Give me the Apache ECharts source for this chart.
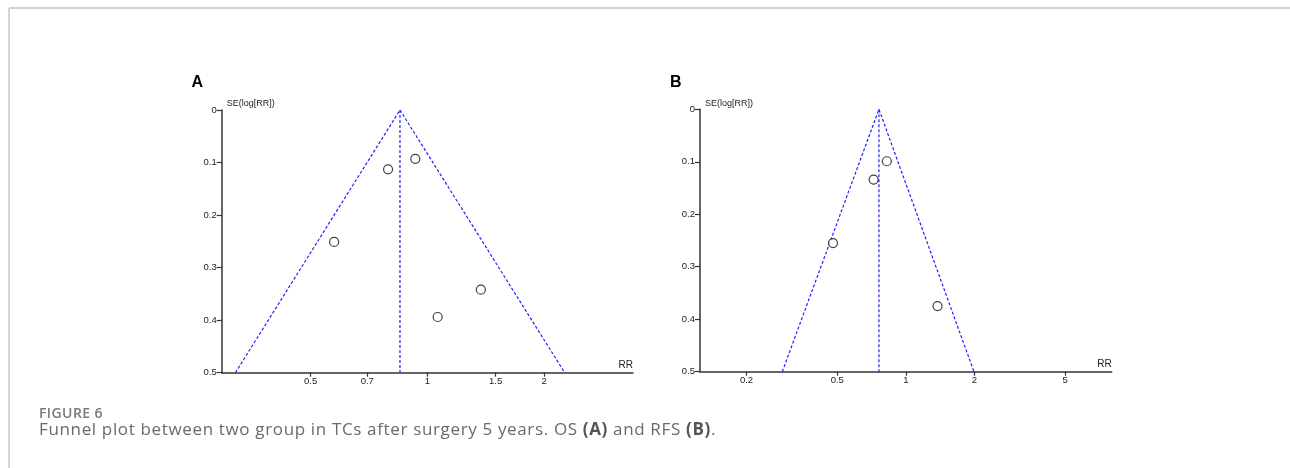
<!DOCTYPE html>
<html>
<head>
<meta charset="utf-8">
<script src="https://cdn.jsdelivr.net/npm/echarts@6/dist/echarts.min.js"></script>
<style>
html,body{margin:0;padding:0;background:#fff;}
#wrap{position:relative;width:1290px;height:468px;}
#chart{position:absolute;left:0;top:0;width:1290px;height:468px;}
#figlabel{position:absolute;left:39px;top:403px;font:600 14px "Open Sans",sans-serif;color:#7a7a7a;letter-spacing:0.4px;white-space:nowrap;}
#caption{position:absolute;left:39px;top:417px;font:400 17px "Open Sans",sans-serif;color:#6a6a6a;letter-spacing:0.65px;white-space:nowrap;}
#caption b{font-weight:700;color:#555;}
</style>
</head>
<body>
<div id="wrap">
<div id="chart"></div>
<div id="figlabel">FIGURE 6</div>
<div id="caption">Funnel plot between two group in TCs after surgery 5 years. OS <b>(A)</b> and RFS <b>(B)</b>.</div>
</div>
<script>
// Panel A (OS)
const rrA = [0.792, 0.931, 0.575, 1.374, 1.063];
const seA = [0.113, 0.093, 0.251, 0.342, 0.394];
const pooledA = 0.85;
const funnelLoA = 0.32;
const funnelHiA = 2.26;
const xTicksA = [0.5, 0.7, 1, 1.5, 2];
const xRangeA = [0.295, 3.39];

// Panel B (RFS)
const rrB = [0.825, 0.722, 0.479, 1.377];
const seB = [0.099, 0.134, 0.255, 0.375];
const pooledB = 0.762;
const funnelLoB = 0.287;
const funnelHiB = 1.99;
const xTicksB = [0.2, 0.5, 1, 2, 5];
const xRangeB = [0.125, 8];

const seMax = 0.5;
const seStep = 0.1;

const axisFont = 'Liberation Sans, Arial, sans-serif';
const funnelColor = '#1f1fff';

function xAxisCfg(gridIndex, range, ticks) {
  return {
    type: 'log', gridIndex: gridIndex, min: range[0], max: range[1],
    name: 'RR', nameLocation: 'end', nameGap: 0,
    nameTextStyle: {fontFamily: axisFont, fontSize: 10, color: '#222', align: 'right', verticalAlign: 'bottom', padding: [0, 0, 2, 0]},
    axisLine: {show: true, onZero: false, lineStyle: {color: '#333', width: 1.5}},
    axisTick: {show: true, length: 4, customValues: ticks, lineStyle: {color: '#333', width: 1.2}},
    axisLabel: {customValues: ticks, margin: 4, fontFamily: axisFont, fontSize: 9.5, color: '#222',
      formatter: v => String(+(+v).toPrecision(3))},
    splitLine: {show: false}, minorTick: {show: false}
  };
}
function yAxisCfg(gridIndex) {
  return {
    type: 'value', gridIndex: gridIndex, inverse: true, min: 0, max: seMax, interval: seStep,
    name: 'SE(log[RR])', nameLocation: 'start', nameGap: 6,
    nameTextStyle: {fontFamily: axisFont, fontSize: 9, color: '#222', align: 'left', verticalAlign: 'middle', padding: [0, 0, 0, 5]},
    axisLine: {show: true, lineStyle: {color: '#333', width: 1.5}},
    axisTick: {show: true, length: 5, lineStyle: {color: '#333', width: 1.2}},
    axisLabel: {margin: 5, fontFamily: axisFont, fontSize: 9.5, color: '#222',
      formatter: v => String(+(+v).toFixed(1))},
    splitLine: {show: false}
  };
}
function pts(rr, se) { return rr.map((r, i) => [r, se[i]]); }
function funnelSeries(idx, lo, pooled, hi) {
  const ls = {color: funnelColor, width: 1.2, type: [3, 2]};
  return [
    {type: 'line', xAxisIndex: idx, yAxisIndex: idx, data: [[lo, seMax], [pooled, 0], [hi, seMax]],
      symbol: 'none', lineStyle: ls, silent: true, z: 2, animation: false},
    {type: 'line', xAxisIndex: idx, yAxisIndex: idx, data: [[pooled, 0], [pooled, seMax]],
      symbol: 'none', lineStyle: ls, silent: true, z: 2, animation: false}
  ];
}
function scatterSeries(idx, rr, se) {
  return {type: 'scatter', xAxisIndex: idx, yAxisIndex: idx, data: pts(rr, se),
    symbol: 'circle', symbolSize: 9,
    itemStyle: {color: '#fff', borderColor: '#111', borderWidth: 1.2}, z: 3, animation: false};
}

const chart = echarts.init(document.getElementById('chart'), null, {renderer: 'canvas'});
chart.setOption({
  backgroundColor: '#fff',
  animation: false,
  grid: [
    {left: 221.7, top: 110, width: 411.3, height: 262.7},
    {left: 700, top: 109.3, width: 411.7, height: 262.4}
  ],
  xAxis: [xAxisCfg(0, xRangeA, xTicksA), xAxisCfg(1, xRangeB, xTicksB)],
  yAxis: [yAxisCfg(0), yAxisCfg(1)],
  series: [
    ...funnelSeries(0, funnelLoA, pooledA, funnelHiA),
    scatterSeries(0, rrA, seA),
    ...funnelSeries(1, funnelLoB, pooledB, funnelHiB),
    scatterSeries(1, rrB, seB)
  ],
  graphic: [
    {type: 'line', shape: {x1: 9, y1: 8, x2: 1290, y2: 8}, style: {stroke: '#d3d3d3', lineWidth: 2}},
    {type: 'line', shape: {x1: 9, y1: 8, x2: 9, y2: 468}, style: {stroke: '#d3d3d3', lineWidth: 2}},
    {type: 'text', x: 191.5, y: 83, style: {text: 'A', font: 'bold 16px Liberation Sans, Arial, sans-serif', fill: '#000', verticalAlign: 'middle'}},
    {type: 'text', x: 670, y: 83, style: {text: 'B', font: 'bold 16px Liberation Sans, Arial, sans-serif', fill: '#000', verticalAlign: 'middle'}}
  ]
});
</script>
</body>
</html>
